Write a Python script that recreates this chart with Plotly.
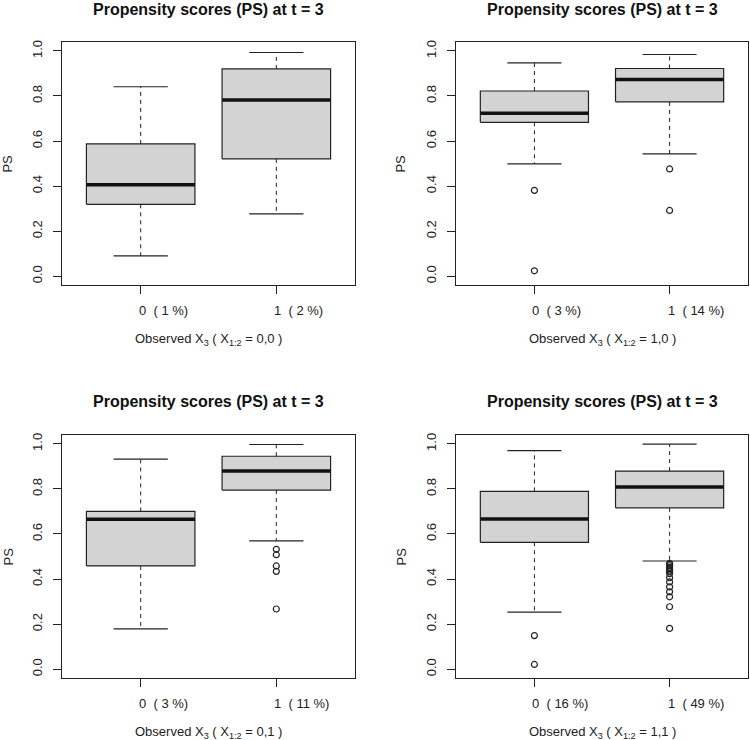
import plotly.graph_objects as go

# ---------------- data ----------------
panel_labels = ["0,0", "1,0", "0,1", "1,1"]
groups = ["0", "1"]
group_pct = [["1 %", "2 %"], ["3 %", "14 %"], ["3 %", "11 %"], ["16 %", "49 %"]]
whisker_low = [[0.090, 0.277], [0.499, 0.543], [0.179, 0.569], [0.253, 0.480]]
q1 = [[0.319, 0.521], [0.683, 0.774], [0.458, 0.795], [0.563, 0.716]]
median = [[0.406, 0.782], [0.723, 0.873], [0.665, 0.879], [0.666, 0.808]]
q3 = [[0.587, 0.920], [0.822, 0.922], [0.700, 0.945], [0.789, 0.879]]
whisker_high = [[0.841, 0.993], [0.947, 0.984], [0.932, 0.997], [0.970, 0.999]]
outliers = [
    [[], []],
    [[0.381, 0.024], [0.476, 0.292]],
    [[], [0.532, 0.508, 0.458, 0.434, 0.267]],
    [[0.149, 0.021],
     [0.470, 0.465, 0.459, 0.452, 0.446, 0.440, 0.434, 0.424, 0.406,
      0.387, 0.365, 0.343, 0.321, 0.277, 0.181]],
]
y_ticks = [0.0, 0.2, 0.4, 0.6, 0.8, 1.0]
y_ticklabels = ["0.0", "0.2", "0.4", "0.6", "0.8", "1.0"]
title_text = "Propensity scores (PS) at t = 3"

# ---------------- styling ----------------
FONT = "Liberation Sans, Arial, Helvetica, sans-serif"
INK = "#222222"
FILL = "#d3d3d3"
BOX_HALF = 0.4
STAPLE_HALF = 0.2
W, H = 750, 740

x_domains = [[62 / W, 355 / W], [456 / W, 748 / W]]
y_domains = [[1 - 284 / H, 1 - 40 / H], [1 - 678 / H, 1 - 434 / H]]

fig = go.Figure()
layout_axes = {}
annotations = []

for p in range(4):
    col, row = p % 2, p // 2
    ax = "" if p == 0 else str(p + 1)
    xref, yref = "x" + ax, "y" + ax
    for g in range(2):
        c = g + 1
        # box body
        fig.add_trace(go.Scatter(
            x=[c - BOX_HALF, c + BOX_HALF, c + BOX_HALF, c - BOX_HALF, c - BOX_HALF],
            y=[q1[p][g], q1[p][g], q3[p][g], q3[p][g], q1[p][g]],
            mode="lines", fill="toself", fillcolor=FILL,
            line=dict(color=INK, width=1.2), xaxis=xref, yaxis=yref,
            showlegend=False, hoverinfo="skip"))
        # dashed whiskers
        fig.add_trace(go.Scatter(
            x=[c, c, None, c, c],
            y=[q3[p][g], whisker_high[p][g], None, q1[p][g], whisker_low[p][g]],
            mode="lines", line=dict(color=INK, width=1, dash="4px,4px"),
            xaxis=xref, yaxis=yref, showlegend=False, hoverinfo="skip"))
        # staples
        fig.add_trace(go.Scatter(
            x=[c - STAPLE_HALF, c + STAPLE_HALF, None, c - STAPLE_HALF, c + STAPLE_HALF],
            y=[whisker_high[p][g], whisker_high[p][g], None,
               whisker_low[p][g], whisker_low[p][g]],
            mode="lines", line=dict(color=INK, width=1.2),
            xaxis=xref, yaxis=yref, showlegend=False, hoverinfo="skip"))
        # median
        fig.add_trace(go.Scatter(
            x=[c - BOX_HALF, c + BOX_HALF],
            y=[median[p][g], median[p][g]],
            mode="lines", line=dict(color="#111111", width=3.5),
            xaxis=xref, yaxis=yref, showlegend=False, hoverinfo="skip"))
        # outliers
        if outliers[p][g]:
            fig.add_trace(go.Scatter(
                x=[c] * len(outliers[p][g]), y=outliers[p][g], mode="markers",
                marker=dict(symbol="circle-open", size=6, color=INK,
                            line=dict(width=1.2, color=INK)),
                xaxis=xref, yaxis=yref, showlegend=False, hoverinfo="skip"))

    common = dict(showline=True, mirror=True, linecolor=INK, linewidth=1.2,
                  ticks="outside", ticklen=8, tickwidth=1, tickcolor=INK,
                  showgrid=False, zeroline=False, fixedrange=True,
                  tickfont=dict(family=FONT, size=13, color=INK))
    layout_axes["xaxis" + ax] = dict(
        domain=x_domains[col], anchor=yref, range=[0.42, 2.58],
        tickvals=[1, 2], showticklabels=False, **common)
    layout_axes["yaxis" + ax] = dict(
        domain=y_domains[row], anchor=xref, range=[-0.04, 1.04],
        tickvals=y_ticks, ticktext=y_ticklabels, tickangle=-90,
        ticklabelstandoff=6, **common)

    # x tick labels: group digit centred on its tick, remainder running right
    lab_y = 1 - (309 if row == 0 else 703) / H
    for g in range(2):
        annotations.append(dict(
            text=f"{groups[g]}\u00a0\u00a0(\u00a0{group_pct[p][g]})",
            x=g + 1, xref=xref, y=lab_y, yref="paper",
            xanchor="left", yanchor="middle", xshift=-4, showarrow=False,
            font=dict(family=FONT, size=13, color=INK)))

    xc = (x_domains[col][0] + x_domains[col][1]) / 2
    yc = (y_domains[row][0] + y_domains[row][1]) / 2
    title_y = 1 - (8 if row == 0 else 401) / H
    xt_y = 1 - (338 if row == 0 else 732) / H
    ps_x = (8 if col == 0 else 401) / W
    annotations.append(dict(
        text=f"<b>{title_text}</b>", x=xc, y=title_y, xref="paper", yref="paper",
        xanchor="center", yanchor="middle", showarrow=False,
        font=dict(family=FONT, size=16, color="#111111")))
    annotations.append(dict(
        text=f"Observed X<sub>3</sub> ( X<sub>1:2</sub> = {panel_labels[p]} )",
        x=xc, y=xt_y, xref="paper", yref="paper", xanchor="center", yanchor="middle",
        showarrow=False, font=dict(family=FONT, size=13, color=INK)))
    annotations.append(dict(
        text="PS", x=ps_x, y=yc, xref="paper", yref="paper", textangle=-90,
        xanchor="center", yanchor="middle", showarrow=False,
        font=dict(family=FONT, size=13, color=INK)))

fig.update_layout(
    width=W, height=H, margin=dict(l=0, r=0, t=0, b=0),
    paper_bgcolor="white", plot_bgcolor="white",
    font=dict(family=FONT, size=13, color=INK),
    annotations=annotations, showlegend=False, **layout_axes)

fig.write_html("out.html", config={"displayModeBar": False})
